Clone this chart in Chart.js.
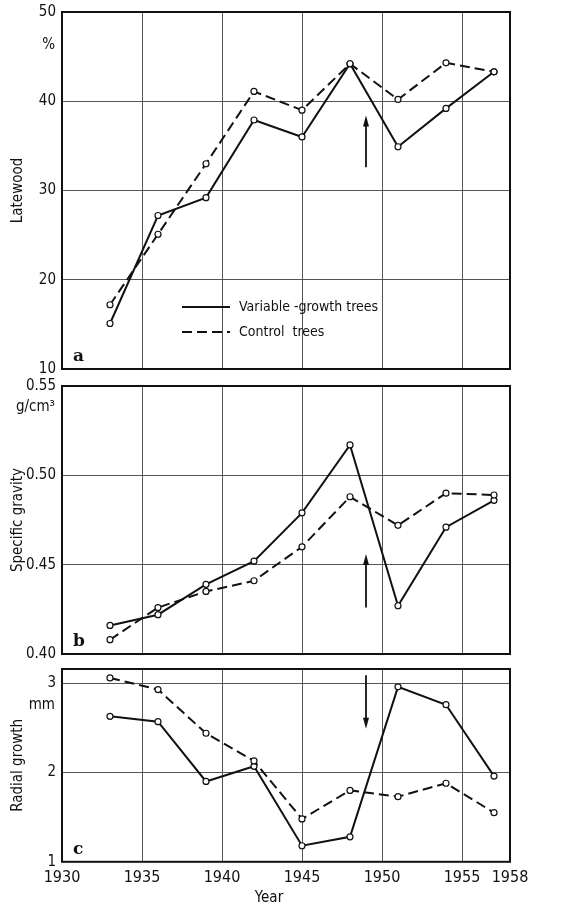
<!DOCTYPE html>
<html>
<head>
<meta charset="utf-8">
<script src="https://cdn.jsdelivr.net/npm/chart.js@4.4.1/dist/chart.umd.min.js"></script>
<style>
  html, body { margin: 0; padding: 0; background: #fff; }
  body { width: 583px; height: 907px; position: relative; overflow: hidden; }
  .panel { position: absolute; left: 0; width: 583px; }
</style>
</head>
<body>
<div class="panel" id="boxA" style="top:0;height:380px"><canvas id="chartA"></canvas></div>
<div class="panel" id="boxB" style="top:375px;height:290px"><canvas id="chartB"></canvas></div>
<div class="panel" id="boxC" style="top:655px;height:252px"><canvas id="chartC"></canvas></div>
<script>
// ---------- Data ----------
const years = [1933, 1936, 1939, 1942, 1945, 1948, 1951, 1954, 1957];
const xTicks = [1930, 1935, 1940, 1945, 1950, 1955, 1958];

const latewoodVariable = [15.1, 27.2, 29.2, 37.9, 36.0, 44.2, 34.9, 39.2, 43.3];
const latewoodControl  = [17.2, 25.1, 33.0, 41.1, 39.0, 44.2, 40.2, 44.3, 43.3];

const gravityVariable = [0.416, 0.422, 0.439, 0.452, 0.479, 0.517, 0.427, 0.471, 0.486];
const gravityControl  = [0.408, 0.426, 0.435, 0.441, 0.460, 0.488, 0.472, 0.490, 0.489];

const radialVariable = [2.63, 2.57, 1.90, 2.07, 1.18, 1.28, 2.96, 2.76, 1.96];
const radialControl  = [3.06, 2.93, 2.44, 2.13, 1.48, 1.80, 1.73, 1.88, 1.55];

const latewoodTicks = [10, 20, 30, 40, 50];
const gravityTicks = [0.40, 0.45, 0.50, 0.55];
const radialTicks = [1, 2, 3];

// arrows: [year, fromValue, toValue]
const arrowA = [1949, 32.6, 38.4];
const arrowB = [1949, 0.426, 0.456];
const arrowC = [1949, 3.09, 2.49];

const legendLabels = ['Variable -growth trees', 'Control  trees'];

// ---------- Helpers ----------
const FONT = '"DejaVu Sans Condensed", "Liberation Sans Narrow", "DejaVu Sans", sans-serif';
const INK = '#111';
const GRID = '#555';

function pts(vals) { return years.map((y, i) => ({ x: y, y: vals[i] })); }

function lineSet(label, vals, dashed) {
  return {
    label,
    data: pts(vals),
    borderColor: INK,
    borderWidth: 2,
    borderDash: dashed ? [10, 5] : [],
    pointRadius: 3,
    pointBackgroundColor: '#fff',
    pointBorderColor: INK,
    pointBorderWidth: 1.2,
    tension: 0,
    fill: false
  };
}

function drawArrow(ctx, chart, arrow) {
  const xs = chart.scales.x, ys = chart.scales.y;
  const x = xs.getPixelForValue(arrow[0]);
  const y1 = ys.getPixelForValue(arrow[1]);
  const y2 = ys.getPixelForValue(arrow[2]);
  const dir = y2 < y1 ? 1 : -1; // 1 = pointing up
  ctx.save();
  ctx.strokeStyle = INK;
  ctx.fillStyle = INK;
  ctx.lineWidth = 1.8;
  ctx.beginPath();
  ctx.moveTo(x, y1);
  ctx.lineTo(x, y2 + dir * 8);
  ctx.stroke();
  ctx.beginPath();
  ctx.moveTo(x, y2);
  ctx.lineTo(x - 3, y2 + dir * 11);
  ctx.lineTo(x + 3, y2 + dir * 11);
  ctx.closePath();
  ctx.fill();
  ctx.restore();
}

// frame, panel letter, unit, arrow, legend
const decor = {
  id: 'decor',
  afterDatasetsDraw(chart, args, opts) {
    const ctx = chart.ctx;
    const a = chart.chartArea;
    ctx.save();
    ctx.strokeStyle = INK;
    ctx.lineWidth = 2;
    ctx.strokeRect(a.left, a.top, a.right - a.left, a.bottom - a.top);

    ctx.fillStyle = INK;
    ctx.font = 'bold 17px "DejaVu Serif", "Liberation Serif", serif';
    ctx.textAlign = 'left';
    ctx.textBaseline = 'alphabetic';
    ctx.fillText(opts.letter, a.left + 11, a.bottom - 8);

    ctx.font = '15px ' + FONT;
    ctx.textAlign = 'right';
    ctx.textBaseline = 'middle';
    ctx.fillText(opts.unit, a.left - 7, a.top + opts.unitDy);

    if (opts.legend) {
      const lx = a.left + 120, ly = a.top + 295;
      ctx.lineWidth = 2;
      ctx.beginPath();
      ctx.moveTo(lx, ly); ctx.lineTo(lx + 48, ly);
      ctx.stroke();
      ctx.setLineDash([10, 5]);
      ctx.beginPath();
      ctx.moveTo(lx, ly + 25); ctx.lineTo(lx + 48, ly + 25);
      ctx.stroke();
      ctx.setLineDash([]);
      ctx.textAlign = 'left';
      ctx.font = '14px ' + FONT;
      ctx.fillText(legendLabels[0], lx + 57, ly);
      ctx.fillText(legendLabels[1], lx + 57, ly + 25);
    }
    if (opts.year) {
      ctx.textAlign = 'center';
      ctx.textBaseline = 'middle';
      ctx.font = '15px ' + FONT;
      ctx.fillText('Year', a.left + 207, a.bottom + 36);
    }
    ctx.restore();
    drawArrow(ctx, chart, opts.arrow);
  }
};

function makePanel(id, cfg) {
  return new Chart(document.getElementById(id), {
    type: 'line',
    data: {
      datasets: [
        lineSet('Control trees', cfg.control, true),
        lineSet('Variable-growth trees', cfg.variable, false)
      ]
    },
    options: {
      responsive: true,
      maintainAspectRatio: false,
      animation: false,
      layout: { padding: { top: 0, bottom: cfg.padBottom, left: 0, right: 73 } },
      plugins: {
        legend: { display: false },
        tooltip: { enabled: false },
        decor: cfg.decor
      },
      scales: {
        x: {
          type: 'linear',
          min: 1930, max: 1958,
          afterBuildTicks: (s) => { s.ticks = xTicks.map(v => ({ value: v })); },
          afterFit: (s) => { if (!cfg.showX) s.height = 0; },
          grid: { color: GRID, lineWidth: 1, drawTicks: false },
          border: { display: false },
          ticks: {
            display: cfg.showX,
            padding: 6,
            color: INK,
            maxRotation: 0,
            autoSkip: false,
            font: { family: FONT, size: 16 },
            callback: (v) => String(v)
          }
        },
        y: {
          min: cfg.min, max: cfg.max,
          afterBuildTicks: (s) => { s.ticks = cfg.ticks.map(v => ({ value: v })); },
          afterFit: (s) => { s.width = 62; },
          grid: { color: GRID, lineWidth: 1, drawTicks: false },
          border: { display: false },
          title: {
            display: true,
            text: cfg.title,
            color: INK,
            padding: { top: 9, bottom: 0 },
            font: { family: FONT, size: 15 }
          },
          ticks: {
            padding: 6,
            color: INK,
            autoSkip: false,
            font: { family: FONT, size: 15 },
            callback: cfg.fmt
          }
        }
      }
    },
    plugins: [decor]
  });
}

// put the plot area of a chart at the wanted page rows
function place(chart, box, top, bottom) {
  const a = chart.chartArea;
  const over = a.top;
  const under = chart.height - a.bottom;
  const h = Math.round(bottom - top + over + under);
  box.style.top = Math.round(top - over) + 'px';
  box.style.height = h + 'px';
  chart.resize(583, h);
}

// ---------- Panels ----------
const chartA = makePanel('chartA', {
  variable: latewoodVariable, control: latewoodControl,
  min: 10, max: 50, ticks: latewoodTicks, title: 'Latewood',
  fmt: (v) => String(v), padBottom: 0, showX: false,
  decor: { letter: 'a', unit: '%', unitDy: 33, arrow: arrowA, legend: true }
});

const chartB = makePanel('chartB', {
  variable: gravityVariable, control: gravityControl,
  min: 0.40, max: 0.55, ticks: gravityTicks, title: 'Specific gravity',
  fmt: (v) => Number(v).toFixed(2), padBottom: 0, showX: false,
  decor: { letter: 'b', unit: 'g/cm³', unitDy: 21, arrow: arrowB }
});

const chartC = makePanel('chartC', {
  variable: radialVariable, control: radialControl,
  min: 1, max: 3.16, ticks: radialTicks, title: 'Radial growth',
  fmt: (v) => String(v), padBottom: 26, showX: true,
  decor: { letter: 'c', unit: 'mm', unitDy: 36, arrow: arrowC, year: true }
});

place(chartA, document.getElementById('boxA'), 12, 369);
place(chartB, document.getElementById('boxB'), 386, 654);
place(chartC, document.getElementById('boxC'), 669, 862);
</script>
</body>
</html>
